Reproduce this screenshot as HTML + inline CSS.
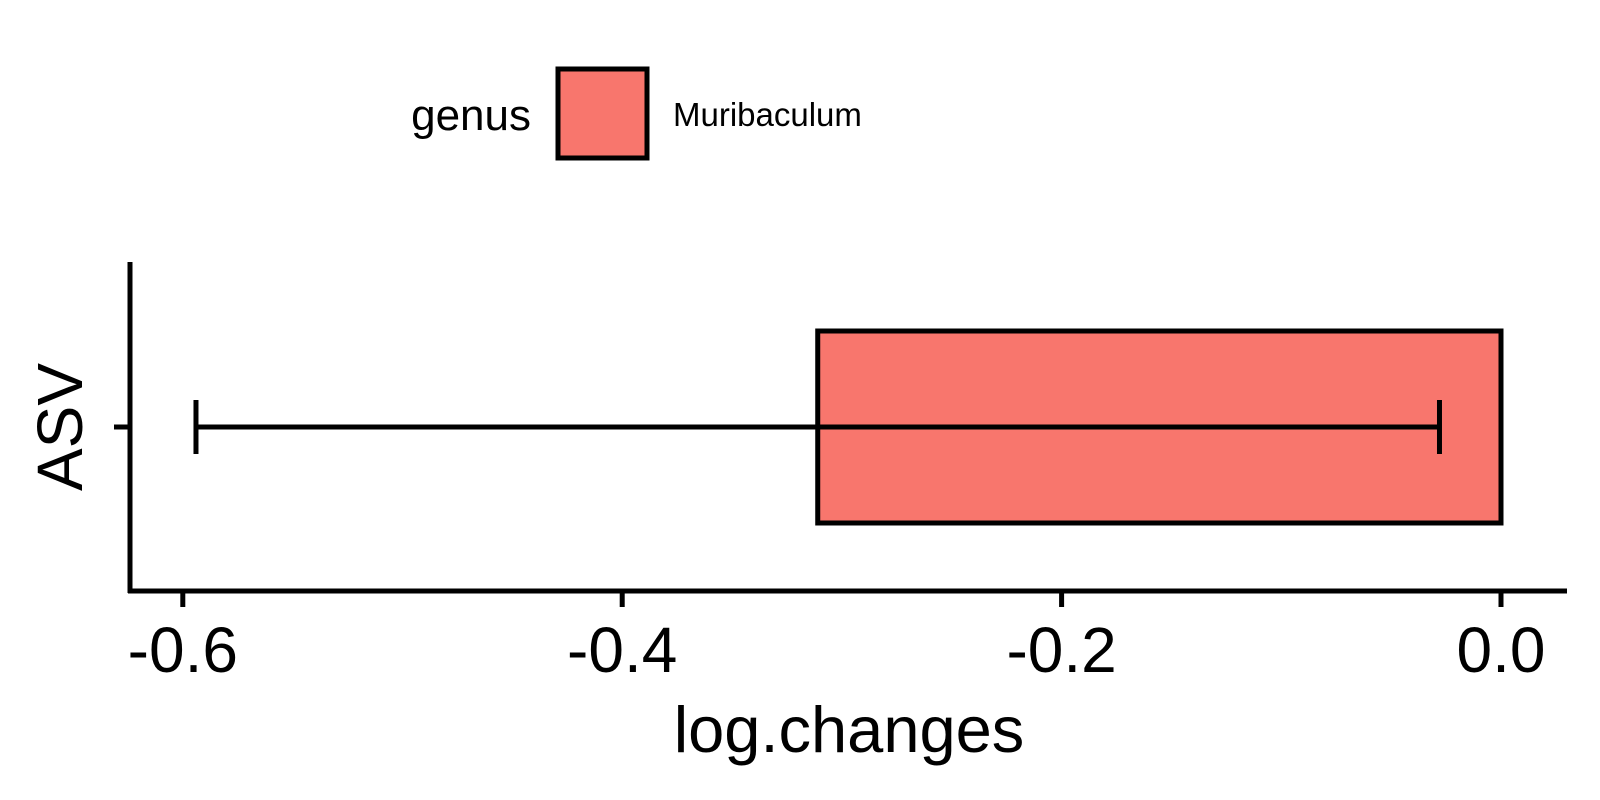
<!DOCTYPE html>
<html><head><meta charset="utf-8"><style>
body{margin:0;background:#fff}
svg{display:block;font-family:"Liberation Sans",sans-serif}
</style></head><body>
<svg id="chart" width="1600" height="800" viewBox="0 0 1600 800">
<g>
<text x="531" y="130" font-size="44" text-anchor="end">genus</text>
<rect x="558" y="69" width="89" height="89" fill="#F8766D" stroke="#000" stroke-width="5"/>
<text x="673" y="126" font-size="33">Muribaculum</text>
</g>
<g id="plot"></g>
<text x="849" y="752" font-size="65" text-anchor="middle">log.changes</text>
<text transform="translate(82,427) rotate(-90)" font-size="64" text-anchor="middle">ASV</text>
</svg>
<script>
const categories = ["ASV"];
const values = [-0.311];
const errLow = [-0.594];
const errHigh = [-0.028];
const tickValues = [-0.6, -0.4, -0.2, 0.0];
const tickLabels = ["-0.6", "-0.4", "-0.2", "0.0"];

const ns = "http://www.w3.org/2000/svg";
const g = document.getElementById("plot");
const x = v => 1501 + v * 2197;
const yC = i => 427;
function mk(tag, attrs) {
  const e = document.createElementNS(ns, tag);
  for (const k in attrs) e.setAttribute(k, attrs[k]);
  g.appendChild(e);
  return e;
}
categories.forEach((c, i) => {
  const cy = yC(i);
  const x0 = Math.min(x(0), x(values[i])), x1 = Math.max(x(0), x(values[i]));
  const bar = mk("rect", {x: x0, y: cy - 96, width: x1 - x0, height: 192, fill: "#F8766D", stroke: "#000", "stroke-width": 5});
  
  
  const el = mk("path", {d: `M${x(errLow[i])},${cy}H${x(errHigh[i])}M${x(errLow[i])},${cy-27}V${cy+27}M${x(errHigh[i])},${cy-27}V${cy+27}`, stroke: "#000", "stroke-width": 5, fill: "none"});
  
  
  const yt = mk("line", {x1: 114, x2: 130, y1: cy, y2: cy, stroke: "#000", "stroke-width": 5});
  
  
});
const ya = mk("line", {x1: 130, x2: 130, y1: 262, y2: 593, stroke: "#000", "stroke-width": 5});


const xa = mk("line", {x1: 128, x2: 1567, y1: 591, y2: 591, stroke: "#000", "stroke-width": 5});


tickValues.forEach((t, i) => {
  const tk = mk("line", {x1: x(t), x2: x(t), y1: 591, y2: 607, stroke: "#000", "stroke-width": 5});
  
  
  const tl = mk("text", {x: x(t), y: 672, "font-size": 64, "text-anchor": "middle"});
  tl.textContent = tickLabels[i];
  
  
});
</script>
</body></html>
